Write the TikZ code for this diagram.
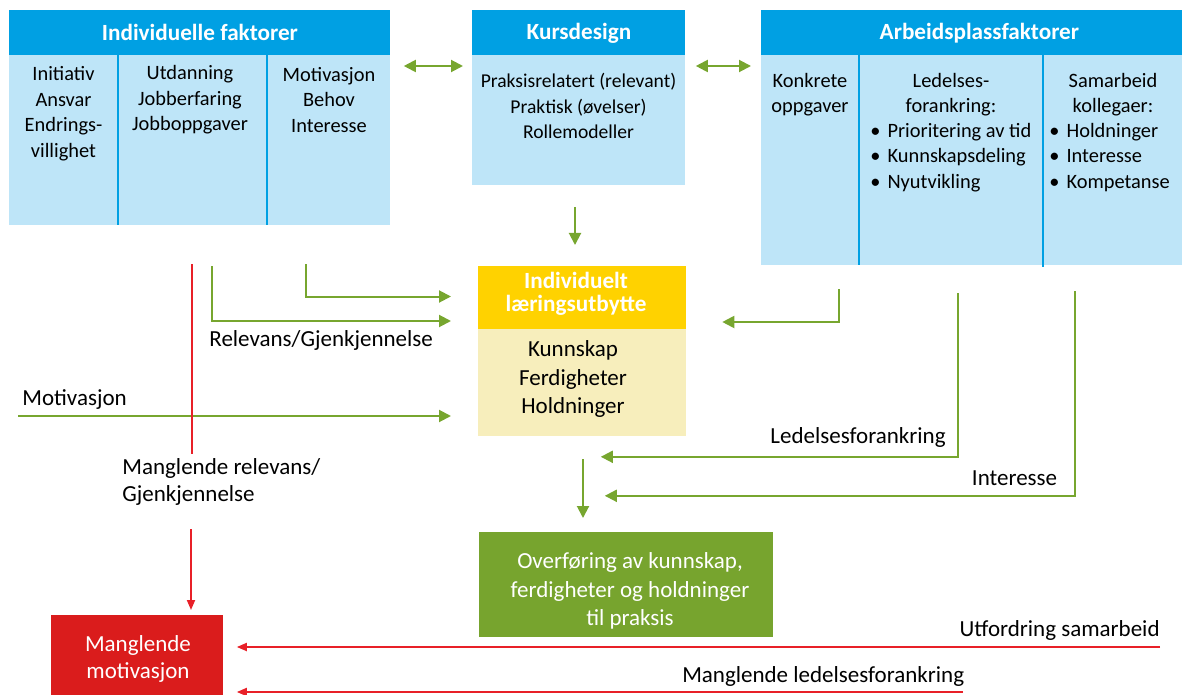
\documentclass[tikz,border=0pt]{standalone}
\usepackage{fontspec}
\setmainfont{Carlito}
\usepackage{tikz}
\usetikzlibrary{arrows.meta,calc}
\usepackage{xcolor}
\definecolor{headblue}{RGB}{0,160,227}
\definecolor{paleblue}{RGB}{190,229,248}
\definecolor{headyellow}{RGB}{255,210,0}
\definecolor{paleyellow}{RGB}{247,238,188}
\definecolor{flowgreen}{RGB}{119,166,47}
\definecolor{boxgreen}{RGB}{119,164,46}
\definecolor{boxred}{RGB}{218,28,28}
\definecolor{linered}{RGB}{232,32,40}
\tikzset{
  headbox/.style={fill=headblue,text=white,minimum height=22.5pt,inner sep=0pt,
    font=\fontsize{11.6}{14}\selectfont\bfseries},
  bodybox/.style={fill=paleblue,inner sep=0pt},
  coltext/.style={align=center,inner sep=0pt,font=\fontsize{10.2}{12.75}\selectfont},
  coldiv/.style={draw=headblue,line width=0.9pt},
  lubhead/.style={fill=headyellow,inner sep=0pt},
  lubheadtext/.style={text=white,align=center,inner sep=0pt,
    font=\fontsize{11.6}{11.75}\selectfont\bfseries},
  lubbody/.style={fill=paleyellow,inner sep=0pt},
  boxtext/.style={align=center,inner sep=0pt,font=\fontsize{11.5}{14.2}\selectfont},
  transferbox/.style={fill=boxgreen,inner sep=0pt},
  redbox/.style={fill=boxred,inner sep=0pt},
  flow/.style={-{Triangle[length=6pt,width=6pt]},line width=1pt,draw=flowgreen},
  twoway/.style={flow,{Triangle[length=6pt,width=6pt]}-{Triangle[length=6pt,width=6pt]}},
  redline/.style={line width=0.9pt,draw=linered},
  redflow/.style={redline,-{Triangle[length=5pt,width=4pt]}},
  lbl/.style={inner sep=0pt,align=left,font=\fontsize{11.5}{13.5}\selectfont}
}
\begin{document}
\begin{tikzpicture}[x=0.5pt,y=-0.5pt]
  \useasboundingbox (0,0) rectangle (1182,695);
  \node[headbox,minimum width=190.5pt,anchor=north west] (indhead) at (9,10) {Individuelle faktorer};
  \node[bodybox,minimum width=190.5pt,minimum height=85pt,anchor=north west] (indbody) at (9,55) {};
  \draw[coldiv] (118,50) -- (118,225);
  \draw[coldiv] (267,50) -- (267,225);
  \node[coltext] (ind1) at (63.5,113.5) {Initiativ\\Ansvar\\Endrings-\\villighet};
  \node[coltext] (ind2) at (190,100) {Utdanning\\Jobberfaring\\Jobboppgaver};
  \node[coltext] (ind3) at (329,100) {Motivasjon\\Behov\\Interesse};

  \node[headbox,minimum width=106.5pt,anchor=north west] (kurshead) at (472,10) {Kursdesign};
  \node[bodybox,minimum width=106.5pt,minimum height=65pt,anchor=north west] (kursbody) at (472,55) {};
  \node[coltext,font=\fontsize{9.8}{12.75}\selectfont] (kurstxt) at (578.5,106)
    {Praksisrelatert (relevant)\\Praktisk (øvelser)\\Rollemodeller};

  \node[headbox,minimum width=218pt,anchor=north west] (arbhead) at (761,10) {Arbeidsplassfaktorer};
  \node[bodybox,minimum width=218pt,minimum height=105pt,anchor=north west] (arbbody) at (761,55) {};
  \draw[coldiv] (859,55) -- (859,265);
  \draw[coldiv] (1043,55) -- (1043,267);
  \begin{scope}[every node/.append style={font=\fontsize{9.9}{12.5}\selectfont}]
    \node[coltext] (arb1) at (810,94.5) {Konkrete\\oppgaver};
    \node[coltext] (arb2) at (951,94.5) {Ledelses-\\forankring:};
    \node[coltext,align=left,anchor=west] (arb2list) at (870,157.5)
      {\textbullet\hspace{3.5pt}Prioritering av tid\\\textbullet\hspace{3.5pt}Kunnskapsdeling\\\textbullet\hspace{3.5pt}Nyutvikling};
    \node[coltext] (arb3) at (1113,94.5) {Samarbeid\\kollegaer:};
    \node[coltext,align=left,anchor=west] (arb3list) at (1049,157.5)
      {\textbullet\hspace{3.5pt}Holdninger\\\textbullet\hspace{3.5pt}Interesse\\\textbullet\hspace{3.5pt}Kompetanse};
  \end{scope}

  \node[lubhead,minimum width=104pt,minimum height=31.6pt,anchor=north west] (lubhead) at (478,266) {};
  \node[lubheadtext] (lubheadtxt) at (576,294) {Individuelt\\læringsutbytte};
  \node[lubbody,minimum width=104pt,minimum height=53.5pt,anchor=north west] (lubbody) at (478,329) {};
  \node[boxtext] (lubtxt) at (573,379) {Kunnskap\\Ferdigheter\\Holdninger};
  \node[transferbox,minimum width=147pt,minimum height=52.5pt,anchor=north west] (transfer) at (478.5,532) {};
  \node[boxtext,text=white] (transfertxt) at (630,591) {Overføring av kunnskap,\\ferdigheter og holdninger\\til praksis};
  \node[redbox,minimum width=86pt,minimum height=40pt,anchor=north west] (mangelbox) at (51,615) {};
  \node[boxtext,text=white,font=\fontsize{11.5}{13.5}\selectfont] (mangeltxt) at (138,659) {Manglende\\motivasjon};

  \node[lbl,anchor=base west] (motlbl) at (22,405.5) {Motivasjon};
  \node[lbl,anchor=base west] (rellbl) at (209,346) {Relevans/Gjenkjennelse};
  \node[lbl,anchor=north west] (mrlbl) at (122,458.5) {Manglende relevans/\\Gjenkjennelse};
  \node[lbl,anchor=base east] (ledlbl) at (946,443.5) {Ledelsesforankring};
  \node[lbl,anchor=base east] (intlbl) at (1057.5,485.5) {Interesse};
  \node[lbl,anchor=base east] (utflbl) at (1160,636.5) {Utfordring samarbeid};
  \node[lbl,anchor=base east] (mlllbl) at (964.5,682.5) {Manglende ledelsesforankring};

  \coordinate (kursout) at (575,207);
  \coordinate (relstart) at (211.7,266);
  \coordinate (indstart) at (306,264);
  \coordinate (motstart) at (18,416);
  \coordinate (redtop) at (191.7,264);
  \coordinate (redmid) at (191,529);
  \coordinate (konstart) at (839,289);
  \coordinate (ledstart) at (958,293);
  \coordinate (intstart) at (1075,291);
  \coordinate (lubout) at (583,459);
  \coordinate (utfstart) at (1160,647);
  \coordinate (mllstart) at (963,692);

  \draw[twoway] ($(indbody.north east)+(13,11)$) -- ($(kursbody.north west)+(-9,11)$);
  \draw[twoway] ($(kursbody.north east)+(10,11)$) -- ($(arbbody.north west)+(-10,11)$);
  \draw[flow] (kursout) -- ($(kursout |- lubhead.north)+(0,-21)$);
  \draw[flow] (relstart) |- ($(lubhead.south west)+(-27,-9)$);
  \draw[flow] (indstart) |- ($(lubhead.west)+(-27,-1.5)$);
  \draw[flow] (motstart) -- ($(lubbody.west |- motstart)+(-27,0)$);
  \draw[redline] (redtop) -- ($(redtop |- mrlbl.north)+(0,-5)$);
  \draw[redflow] (redmid) -- ($(redmid |- mangelbox.north)+(0,-5)$);
  \draw[flow] (konstart) |- ($(lubhead.south east)+(35.5,-8)$);
  \draw[flow] (ledstart) |- ($(lubbody.south east)+(-86,20)$);
  \draw[flow] (intstart) |- ($(lubbody.south east)+(-82,59)$);
  \draw[flow] (lubout) -- ($(lubout |- transfer.north)+(0,-14)$);
  \draw[redflow] (utfstart) -- ($(mangelbox.east |- utfstart)+(13,0)$);
  \draw[redflow] (mllstart) -- ($(mangelbox.east |- mllstart)+(13,0)$);
\end{tikzpicture}
\end{document}
